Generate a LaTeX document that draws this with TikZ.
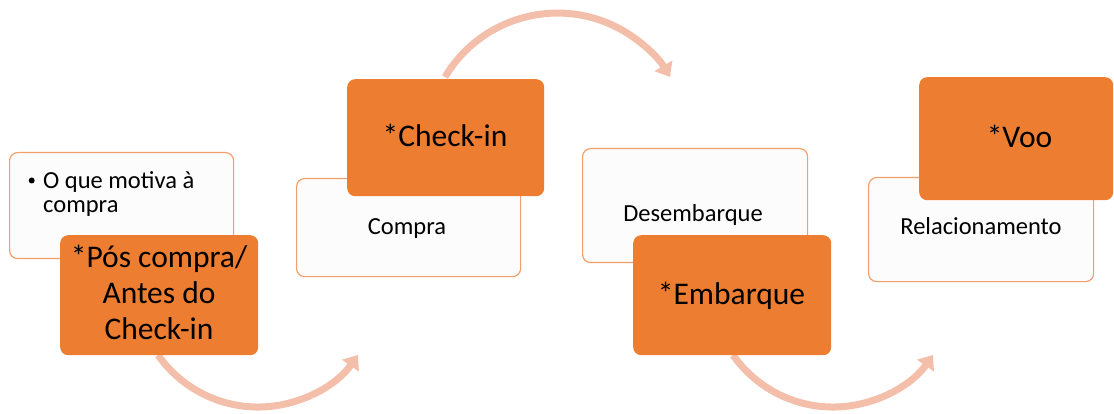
\documentclass[tikz,border=0pt]{standalone}
\usepackage{fontspec}
\setmainfont{Carlito}
\usetikzlibrary{arrows.meta}
\definecolor{accent}{HTML}{ED7D31}
\definecolor{boxline}{HTML}{F2A06A}
\definecolor{boxfill}{HTML}{FCFCFC}
\definecolor{arccol}{HTML}{F4BFAA}
\tikzset{
  wbox/.style={draw=boxline, line width=1.2pt, fill=boxfill, rounded corners=8pt, anchor=north west, inner sep=0pt},
  obox/.style={draw=none, fill=accent, rounded corners=8pt, anchor=north west, inner sep=0pt},
  flowarc/.style={draw=arccol, line width=7pt, -{Triangle[width=20pt,length=13pt]}},
  smalltxt/.style={font=\fontsize{24.5}{24.5}\selectfont, inner sep=0pt, text=black},
  bigtxt/.style={font=\fontsize{31.5}{36}\selectfont, inner sep=0pt, align=center, text=black},
}
\begin{document}
\begin{tikzpicture}[x=1pt,y=-1pt]
\useasboundingbox (0,0) rectangle (1114,414);
% arcs (behind boxes)
\coordinate (a1s) at (158,355);
\coordinate (a2s) at (445,77);
\coordinate (a3s) at (733,355);
\draw[flowarc] (a2s) arc[start angle=-149.2, end angle=-30.8, radius=131];
\draw[flowarc] (a1s) arc[start angle=145, end angle=35, radius=122];
\draw[flowarc] (a3s) arc[start angle=145, end angle=35, radius=122];
% group 1
\node[wbox, minimum width=224pt, minimum height=106pt] (w1) at (9,152) {};
\node[obox, minimum width=198pt, minimum height=120pt] (o1) at (60,235) {};
\fill[black] (31.7,180.5) circle (3pt);
\node[smalltxt, anchor=base west, align=left] (t1) at (43,212.5) {O que motiva à\\compra};
\node[bigtxt, anchor=base] (b1) at (159,339.5) {*Pós compra/\\Antes do\\Check-in};
% group 2
\node[wbox, minimum width=224pt, minimum height=98pt] (w2) at (296,178) {};
\node[obox, minimum width=197pt, minimum height=117pt] (o2) at (347,79) {};
\node[smalltxt, anchor=base] (t2) at (407,235) {Compra};
\node[bigtxt, anchor=base] (b2) at (445,147) {*Check-in};
% group 3
\node[wbox, minimum width=225pt, minimum height=114pt] (w3) at (582,148) {};
\node[obox, minimum width=198pt, minimum height=120pt] (o3) at (633,235) {};
\node[smalltxt, anchor=base] (t3) at (693,222) {Desembarque};
\node[bigtxt, anchor=base] (b3) at (731.5,305) {*Embarque};
% group 4
\node[wbox, minimum width=225pt, minimum height=104pt] (w4) at (868,177) {};
\node[obox, minimum width=194pt, minimum height=123pt] (o4) at (919,77) {};
\node[smalltxt, anchor=base] (t4) at (981,235) {Relacionamento};
\node[bigtxt, anchor=base] (b4) at (1019.5,148) {*Voo};
\end{tikzpicture}
\end{document}
